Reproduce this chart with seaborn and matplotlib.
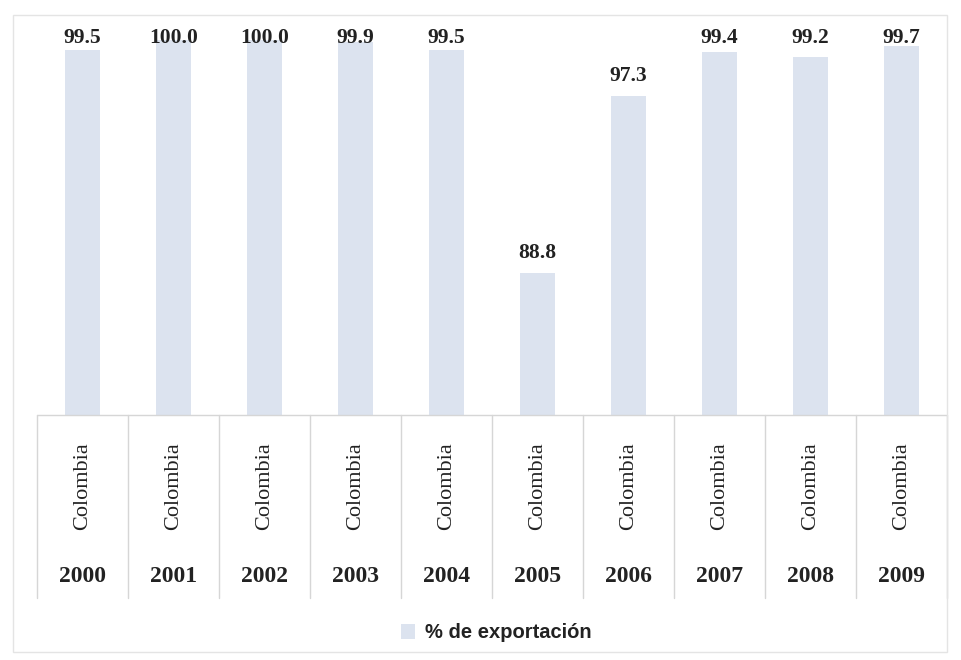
import matplotlib
matplotlib.use("Agg")
import matplotlib.pyplot as plt
import matplotlib.transforms as mtransforms
from matplotlib.patches import Rectangle, Patch
from matplotlib.lines import Line2D
import seaborn as sns
import pandas as pd

# Export share by year
years = ["2000", "2001", "2002", "2003", "2004", "2005", "2006", "2007", "2008", "2009"]
countries = ["Colombia"] * 10
export_pct = [99.5, 100.0, 100.0, 99.9, 99.5, 88.8, 97.3, 99.4, 99.2, 99.7]
series_name = "% de exportación"

bar_color = "#dce3ef"
text_color = "#222222"
line_color = "#d6d6d6"

df = pd.DataFrame({"year": years, "country": countries, "pct": export_pct})

sns.set_style("white")
W, H = 961, 660
fig = plt.figure(figsize=(W / 100, H / 100), dpi=100)

def fx(px):
    return px / W

def fy(py):
    return 1 - py / H

left_px, right_px, top_px, base_px = 37, 947, 15, 415
ax = fig.add_axes([fx(left_px), fy(base_px), fx(right_px - left_px), (base_px - top_px) / H])

sns.barplot(data=df, x="year", y="pct", color=bar_color, width=0.38,
            saturation=1, ax=ax, edgecolor="none")

ymin, ymax = 82.0, 101.2
ax.set_ylim(ymin, ymax)
ax.set_xlim(-0.5, len(years) - 0.5)
ax.set_xlabel("")
ax.set_ylabel("")
ax.set_xticks([])
ax.set_yticks([])
for s in ax.spines.values():
    s.set_visible(False)

# value labels above the bars, kept inside the plot area
label_cap = 99.64
for i, v in enumerate(export_pct):
    ax.text(i, min(v + 0.48, label_cap), f"{v:.1f}", ha="center", va="bottom",
            fontsize=15.5, fontweight="bold", family="Liberation Serif",
            color=text_color)

# category table under the plot
trans = mtransforms.blended_transform_factory(ax.transData, fig.transFigure)
table_bottom = fy(598)
ax.add_line(Line2D([-0.5, len(years) - 0.5], [fy(base_px), fy(base_px)],
                   transform=trans, color=line_color, lw=1.0, clip_on=False))
for k in range(len(years) + 1):
    xb = k - 0.5
    ax.add_line(Line2D([xb, xb], [fy(base_px), table_bottom], transform=trans,
                       color=line_color, lw=1.0, clip_on=False))
for i, (c, yr) in enumerate(zip(countries, years)):
    ax.text(i, fy(486), c, transform=trans, rotation=90, ha="center", va="center",
            fontsize=16, family="Liberation Serif", color=text_color)
    ax.text(i, fy(577), yr, transform=trans, ha="center", va="center",
            fontsize=17, fontweight="bold", family="Liberation Serif",
            color=text_color)

# outer chart frame
fig.patches.append(Rectangle((fx(13), fy(652)), fx(947 - 13), (652 - 15) / H,
                             transform=fig.transFigure, fill=False,
                             edgecolor="#e4e4e4", lw=1.0))

leg = fig.legend(handles=[Patch(facecolor=bar_color, edgecolor="none", label=series_name)],
                 loc="center", bbox_to_anchor=(fx(496), fy(633)), frameon=False,
                 handlelength=0.7, handleheight=0.7, handletextpad=0.5,
                 prop={"family": "Liberation Sans", "weight": "bold", "size": 14.5})
for t in leg.get_texts():
    t.set_color(text_color)

fig.savefig("out.png", dpi=100)
